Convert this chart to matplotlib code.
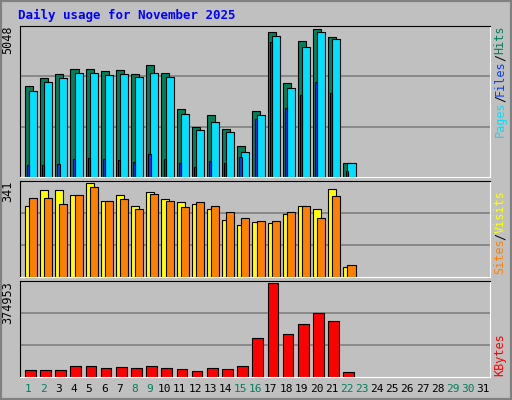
import matplotlib
matplotlib.use("Agg")
import matplotlib.pyplot as plt
from matplotlib.patches import Rectangle

days = list(range(1, 32))
weekend = [1, 2, 8, 9, 15, 16, 22, 23, 29, 30]

hits = [3098, 3373, 3511, 3683, 3683, 3614, 3648, 3511, 3820, 3545, 2306, 1721, 2099, 1652,
        1067, 2237, 4956, 3201, 4646, 5048, 4784, 482]
files = [2926, 3235, 3373, 3545, 3545, 3476, 3511, 3407, 3545, 3407, 2134, 1618, 1859, 1549,
         860, 2099, 4819, 3029, 4440, 4956, 4715, 482]
pages = [413, 413, 447, 620, 654, 620, 585, 516, 792, 620, 482, 344, 551, 482,
         688, 1962, 4612, 2340, 2788, 3235, 2857, 206]
visits = [259, 315, 315, 297, 341, 274, 297, 256, 308, 282, 271, 263, 248, 208,
          189, 200, 196, 230, 259, 248, 319, 37]
sites = [285, 285, 263, 297, 326, 274, 282, 245, 300, 274, 252, 271, 259, 234,
         215, 204, 204, 237, 256, 215, 293, 44]
kbytes = [28529, 28529, 28529, 44831, 44831, 36680, 40756, 36680, 44831, 36680, 32604, 24453,
          36680, 32604, 44831, 154872, 374953, 171175, 211929, 256760, 224155, 20378]

W, H = 512, 400
BG = "#C0C0C0"
fig = plt.figure(figsize=(W / 100, H / 100), dpi=100, facecolor=BG)
font = "DejaVu Sans Mono"

# 3D-ish border
fig.patches.append(Rectangle((0, 0), 1, 1, transform=fig.transFigure, fill=False,
                             edgecolor="#808080", linewidth=3))
fig.text(18 / W, 1 - 15 / H, "Daily usage for November 2025", color="#0000FF",
         fontsize=9, fontweight="bold", family=font, va="center")


def panel(top, bottom):
    return fig.add_axes([20 / W, 1 - bottom / H, 470 / W, (bottom - top) / H], facecolor=BG)


def style(ax, ymax, label):
    ax.set_xlim(0, 31)
    ax.set_ylim(0, ymax * 1.02)
    for f in (1 / 3, 2 / 3):
        ax.axhline(ymax * 1.02 * f, color="#808080", linewidth=1.2, zorder=0)
    ax.set_xticks([])
    ax.set_yticks([])
    for s in ax.spines.values():
        s.set_color("black")
    ax.spines["right"].set_color("white")
    ax.spines["bottom"].set_color("white")
    ax.text(-0.012, 1.0, label, transform=ax.transAxes, rotation=90, ha="right", va="top",
            fontsize=8.5, family=font)


def bars(ax, vals, off, width, color):
    x = [d - 1 + off for d in days[:len(vals)]]
    ax.bar(x, vals, width=width, align="edge", color=color, edgecolor="black", linewidth=0.8)


def side(y_center, parts):
    # parts listed bottom-to-top
    y = y_center
    total = sum(len(t) for t, _ in parts)
    y = y_center - total * 6.5 / 2
    for t, c in parts:
        fig.text(502 / W, 1 - y / H, t, rotation=90, color=c, fontsize=8.5, family=font,
                 ha="center", va="top" if False else "bottom")
        y -= len(t) * 6.5 * -1


ax1 = panel(26, 177)
bars(ax1, hits, 0.33, 0.53, "#00805C")
bars(ax1, files, 0.6, 0.53, "#00E0FF")
bars(ax1, pages, 0.47, 0.14, "#0040FF")
style(ax1, 5048, "5048")

ax2 = panel(181, 277)
bars(ax2, visits, 0.33, 0.53, "#FFFF00")
bars(ax2, sites, 0.6, 0.53, "#FF8000")
style(ax2, 341, "341")

ax3 = panel(281, 377)
bars(ax3, kbytes, 0.33, 0.7, "#FF0000")
style(ax3, 374953, "374953")

for d in days:
    fig.text((20 + (d - 0.45) * 470 / 31) / W, 1 - 389 / H, str(d), ha="center", va="center",
             fontsize=8, family=font, color="#00805C" if d in weekend else "black")


def side_label(bottom_px, parts):
    y = bottom_px
    for t, c in parts:
        fig.text(500 / W, 1 - y / H, t, rotation=90, color=c, fontsize=8.5, family=font,
                 ha="center", va="bottom")
        y -= len(t) * 6.9


side_label(137, [("Pages", "#00E0FF"), ("/", "black"), ("Files", "#0040FF"), ("/", "black"),
                 ("Hits", "#00805C")])
side_label(274, [("Sites", "#FF8000"), ("/", "black"), ("Visits", "#FFFF00")])
side_label(376, [("KBytes", "#FF0000")])

fig.savefig("out.png", dpi=100, facecolor=BG)
